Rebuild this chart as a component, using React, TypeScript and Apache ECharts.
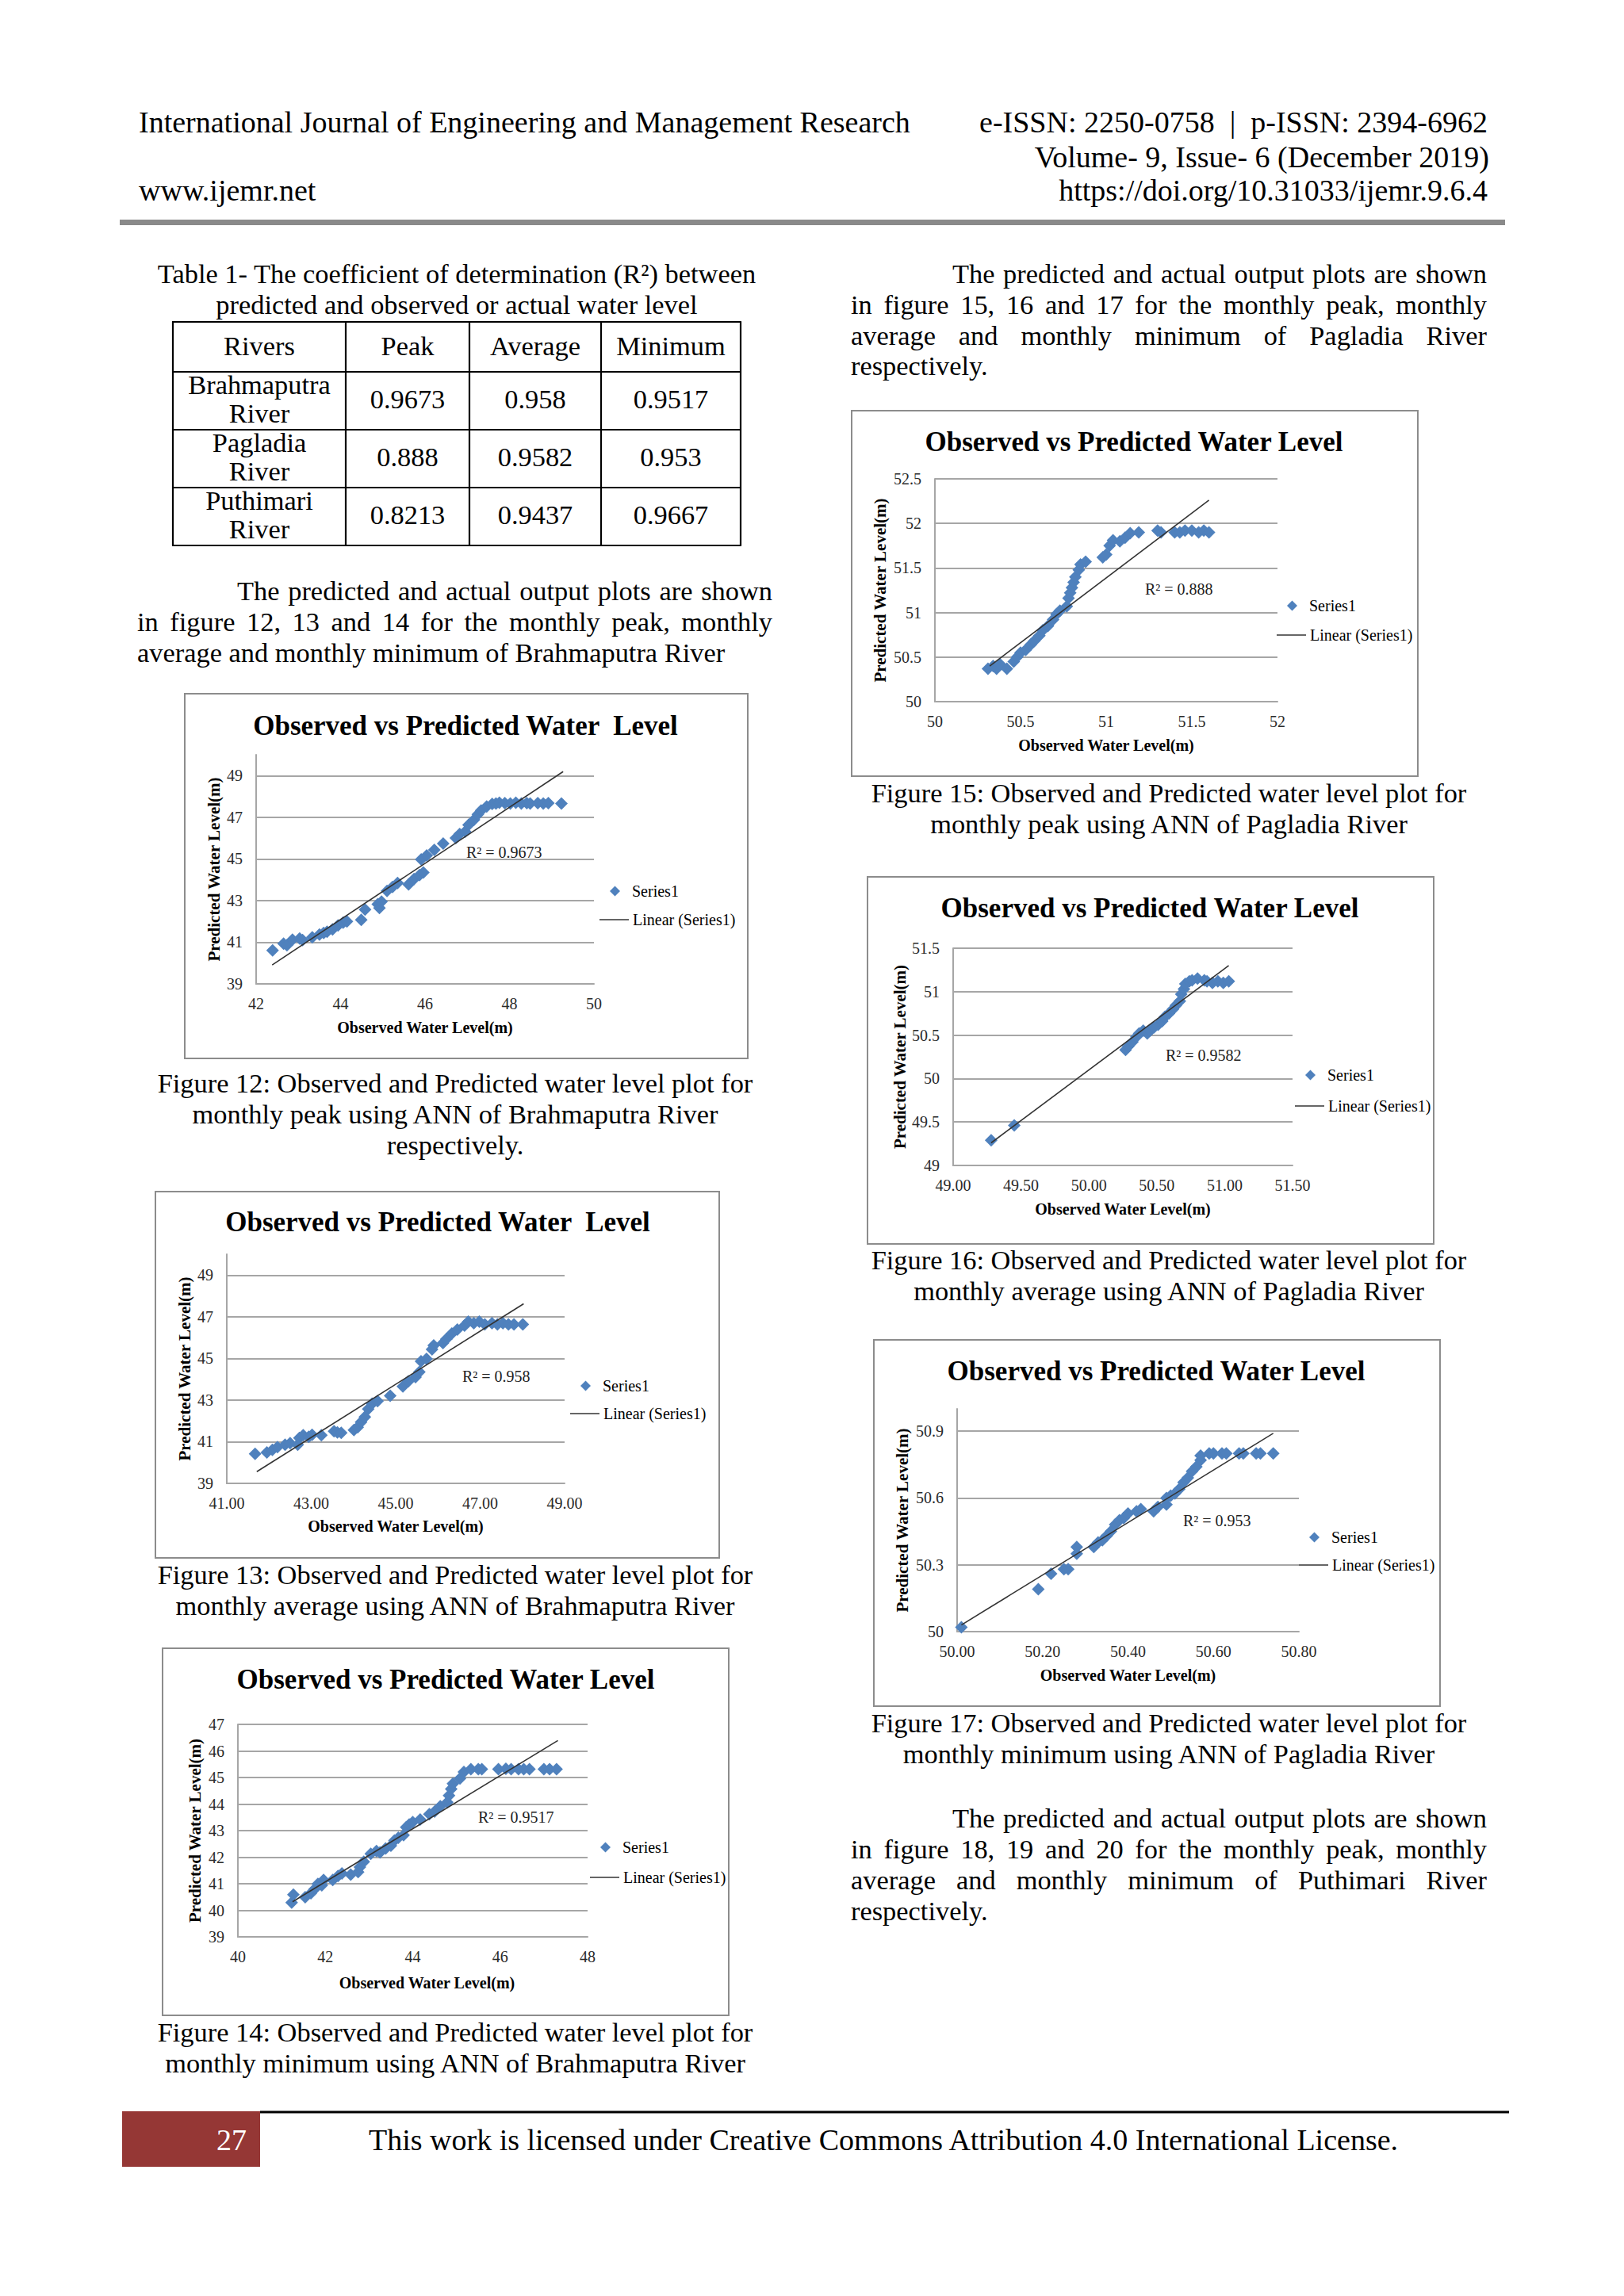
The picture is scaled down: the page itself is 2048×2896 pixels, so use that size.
import React, { useEffect, useRef } from "react";
import * as echarts from "echarts";

const SERIF = "'Liberation Serif', 'Times New Roman', serif";
const BLUE = "#4f81bd";
const GRID = "#a6a6a6";
const TREND = "#333333";

// ---------- Figure 12: Brahmaputra, monthly peak ----------
const obs12 = [42.39, 42.65, 42.73, 42.86, 43.03, 43.1, 43.33, 43.5, 43.6, 43.68, 43.81, 43.94, 44.06, 44.15, 44.49, 44.58, 44.88, 44.92, 44.97, 45.1, 45.23, 45.35, 45.61, 45.74, 45.87, 45.96, 45.91, 46.04, 46.22, 46.43, 46.73, 46.82, 46.95, 47.03, 47.16, 47.25, 47.33, 47.46, 47.59, 47.68, 47.76, 47.89, 48.02, 48.15, 48.28, 48.41, 48.49, 48.67, 48.8, 48.92, 49.23];
const pred12 = [40.61, 40.93, 40.86, 41.12, 41.18, 41.1, 41.24, 41.37, 41.45, 41.5, 41.62, 41.81, 41.94, 42.0, 42.07, 42.57, 42.83, 42.64, 42.95, 43.46, 43.65, 43.84, 43.78, 44.03, 44.22, 44.35, 44.98, 45.17, 45.43, 45.74, 46.0, 46.19, 46.31, 46.63, 46.88, 47.14, 47.33, 47.52, 47.64, 47.66, 47.7, 47.68, 47.66, 47.7, 47.66, 47.68, 47.66, 47.68, 47.66, 47.68, 47.66];
const trendObs12 = [42.38, 49.27];
const trendPred12 = [39.91, 49.19];

// ---------- Figure 13: Brahmaputra, monthly average ----------
const obs13 = [41.67, 41.95, 42.08, 42.2, 42.38, 42.5, 42.68, 42.72, 42.81, 42.94, 43.02, 43.24, 43.54, 43.62, 43.71, 44.01, 44.1, 44.18, 44.27, 44.35, 44.44, 44.57, 44.87, 45.17, 45.3, 45.47, 45.56, 45.6, 45.73, 45.86, 45.9, 46.12, 46.2, 46.33, 46.46, 46.63, 46.72, 46.85, 46.98, 47.11, 47.28, 47.41, 47.54, 47.67, 47.8, 48.01];
const pred13 = [40.42, 40.48, 40.61, 40.74, 40.86, 40.93, 40.86, 41.18, 41.31, 41.24, 41.33, 41.31, 41.5, 41.45, 41.43, 41.56, 41.69, 41.94, 42.19, 42.57, 42.83, 42.95, 43.21, 43.65, 43.9, 44.1, 44.35, 44.86, 44.98, 45.43, 45.62, 45.74, 45.93, 46.19, 46.38, 46.57, 46.76, 46.69, 46.76, 46.63, 46.69, 46.63, 46.69, 46.63, 46.63, 46.63];
const trendObs13 = [41.71, 48.03];
const trendPred13 = [39.56, 47.62];

// ---------- Figure 14: Brahmaputra, monthly minimum ----------
const obs14 = [41.23, 41.27, 41.54, 41.67, 41.75, 41.83, 41.92, 41.96, 42.17, 42.29, 42.38, 42.58, 42.75, 42.79, 42.88, 43.04, 43.17, 43.25, 43.38, 43.5, 43.58, 43.67, 43.79, 43.85, 43.92, 44.0, 44.17, 44.38, 44.5, 44.63, 44.79, 44.83, 44.88, 44.92, 45.08, 45.17, 45.33, 45.5, 45.58, 45.96, 46.13, 46.25, 46.42, 46.54, 46.67, 47.0, 47.13, 47.29];
const pred14 = [40.29, 40.59, 40.49, 40.64, 40.79, 40.99, 40.94, 41.14, 41.14, 41.29, 41.39, 41.34, 41.44, 41.63, 41.83, 42.13, 42.23, 42.18, 42.33, 42.43, 42.63, 42.73, 42.83, 43.13, 43.23, 43.32, 43.42, 43.62, 43.72, 43.92, 44.07, 44.32, 44.57, 44.77, 44.96, 45.21, 45.31, 45.31, 45.31, 45.31, 45.33, 45.31, 45.31, 45.31, 45.31, 45.31, 45.31, 45.31];
const trendObs14 = [41.25, 47.32];
const trendPred14 = [40.32, 46.39];

// ---------- Figure 15: Pagladia, monthly peak ----------
const obs15 = [50.31, 50.34, 50.36, 50.38, 50.42, 50.46, 50.48, 50.5, 50.53, 50.56, 50.58, 50.61, 50.63, 50.66, 50.69, 50.71, 50.73, 50.77, 50.78, 50.79, 50.8, 50.81, 50.82, 50.84, 50.85, 50.88, 50.98, 51.0, 51.02, 51.04, 51.08, 51.11, 51.14, 51.19, 51.3, 51.32, 51.4, 51.43, 51.46, 51.5, 51.54, 51.57, 51.6];
const pred15 = [50.37, 50.4, 50.37, 50.42, 50.37, 50.45, 50.5, 50.55, 50.58, 50.64, 50.68, 50.74, 50.8, 50.85, 50.92, 50.98, 51.02, 51.07, 51.16, 51.22, 51.28, 51.34, 51.4, 51.48, 51.54, 51.57, 51.62, 51.65, 51.75, 51.81, 51.8, 51.84, 51.89, 51.9, 51.92, 51.9, 51.9, 51.9, 51.92, 51.92, 51.9, 51.92, 51.9];
const trendObs15 = [50.32, 51.6];
const trendPred15 = [50.4, 52.26];

// ---------- Figure 16: Pagladia, monthly average ----------
const obs16 = [49.28, 49.45, 50.27, 50.29, 50.32, 50.35, 50.37, 50.4, 50.43, 50.45, 50.48, 50.51, 50.54, 50.56, 50.59, 50.62, 50.64, 50.67, 50.68, 50.7, 50.71, 50.74, 50.76, 50.8, 50.85, 50.87, 50.91, 50.95, 50.99, 51.03];
const pred16 = [49.29, 49.46, 50.33, 50.37, 50.42, 50.48, 50.52, 50.55, 50.52, 50.55, 50.59, 50.62, 50.66, 50.71, 50.75, 50.8, 50.84, 50.89, 50.97, 51.03, 51.09, 51.12, 51.13, 51.15, 51.13, 51.12, 51.1, 51.12, 51.1, 51.12];
const trendObs16 = [49.28, 51.03];
const trendPred16 = [49.26, 51.3];

// ---------- Figure 17: Pagladia, monthly minimum ----------
const obs17 = [50.01, 50.19, 50.22, 50.25, 50.26, 50.28, 50.28, 50.32, 50.33, 50.34, 50.35, 50.36, 50.37, 50.38, 50.39, 50.4, 50.42, 50.43, 50.46, 50.47, 50.49, 50.49, 50.5, 50.51, 50.52, 50.53, 50.54, 50.55, 50.56, 50.57, 50.57, 50.59, 50.6, 50.62, 50.63, 50.66, 50.67, 50.7, 50.71, 50.74];
const pred17 = [50.02, 50.19, 50.26, 50.28, 50.28, 50.35, 50.38, 50.38, 50.4, 50.41, 50.43, 50.45, 50.48, 50.5, 50.51, 50.53, 50.54, 50.55, 50.54, 50.56, 50.57, 50.6, 50.61, 50.62, 50.64, 50.67, 50.69, 50.72, 50.74, 50.77, 50.79, 50.8, 50.8, 50.8, 50.8, 50.8, 50.8, 50.8, 50.8, 50.8];
const trendObs17 = [50.01, 50.74];
const trendPred17 = [50.03, 50.89];

// ---------- Table 1 ----------
const tableHeader = ["Rivers", "Peak", "Average", "Minimum"];
const tableRivers = [["Brahmaputra", "River"], ["Pagladia", "River"], ["Puthimari", "River"]];
const r2Peak = ["0.9673", "0.888", "0.8213"];
const r2Average = ["0.958", "0.9582", "0.9437"];
const r2Minimum = ["0.9517", "0.953", "0.9667"];

// ---------- layout of the six charts (pixels in the page) ----------
const charts = [
  { obs: obs12, pred: pred12, tObs: trendObs12, tPred: trendPred12, r2: "R² = 0.9673",
    box: [233, 875, 943, 1335], grid: [323, 952, 749, 1241], xr: [42, 50, 2], yr: [39, 50, 2], xDec: -1,
    title: "Observed vs Predicted Water  Level", titleXY: [587, 927], r2XY: [588, 1082],
    legend: [756, 1124, 36], yNameGap: 43, xNameGap: 45, xNamePad: 0 },
  { obs: obs13, pred: pred13, tObs: trendObs13, tPred: trendPred13, r2: "R² = 0.958",
    box: [196, 1503, 907, 1965], grid: [286, 1582, 712, 1871], xr: [41, 49, 2], yr: [39, 50, 2], xDec: 2,
    title: "Observed vs Predicted Water  Level", titleXY: [552, 1553], r2XY: [583, 1743],
    legend: [719, 1748, 35], yNameGap: 43, xNameGap: 44, xNamePad: 0 },
  { obs: obs14, pred: pred14, tObs: trendObs14, tPred: trendPred14, r2: "R² = 0.9517",
    box: [205, 2079, 919, 2542], grid: [300, 2175, 741, 2443], xr: [40, 48, 2], yr: [39, 47, 1], xDec: -1,
    title: "Observed vs Predicted Water Level", titleXY: [562, 2130], r2XY: [603, 2299],
    legend: [744, 2330, 38], yNameGap: 44, xNameGap: 48, xNamePad: 36 },
  { obs: obs15, pred: pred15, tObs: trendObs15, tPred: trendPred15, r2: "R² = 0.888",
    box: [1074, 518, 1788, 979], grid: [1179, 604, 1611, 885], xr: [50, 52, 0.5], yr: [50, 52.5, 0.5], xDec: -1,
    title: "Observed vs Predicted Water Level", titleXY: [1430, 569], r2XY: [1444, 750],
    legend: [1610, 764, 37], yNameGap: 59, xNameGap: 45, xNamePad: 0 },
  { obs: obs16, pred: pred16, tObs: trendObs16, tPred: trendPred16, r2: "R² = 0.9582",
    box: [1094, 1106, 1808, 1569], grid: [1202, 1196, 1630, 1470], xr: [49, 51.5, 0.5], yr: [49, 51.5, 0.5], xDec: 2,
    title: "Observed vs Predicted Water Level", titleXY: [1450, 1157], r2XY: [1470, 1338],
    legend: [1633, 1356, 39], yNameGap: 57, xNameGap: 45, xNamePad: 0 },
  { obs: obs17, pred: pred17, tObs: trendObs17, tPred: trendPred17, r2: "R² = 0.953",
    box: [1102, 1690, 1816, 2152], grid: [1207, 1777, 1638, 2058], xr: [50, 50.8, 0.2], yr: [50, 51, 0.3], xDec: 2,
    title: "Observed vs Predicted Water Level", titleXY: [1458, 1741], r2XY: [1492, 1925],
    legend: [1638, 1939, 35], yNameGap: 59, xNameGap: 45, xNamePad: 0 },
];

// ---------- page text ----------
const BODY = 34.4;
const HEAD = 38;
const leftPara = [
  { t: "The predicted and actual output plots are shown", x: 299, b: 757, j: true },
  { t: "in figure 12, 13 and 14 for the monthly peak, monthly", x: 173, b: 796, j: true },
  { t: "average and monthly minimum of Brahmaputra River", x: 173, b: 835, j: false },
];
const rightPara1 = [
  { t: "The predicted and actual output plots are shown", x: 1201, b: 357, j: true },
  { t: "in figure 15, 16 and 17 for the monthly peak, monthly", x: 1073, b: 396, j: true },
  { t: "average and monthly minimum of Pagladia River", x: 1073, b: 435, j: true },
  { t: "respectively.", x: 1073, b: 473, j: false },
];
const rightPara2 = [
  { t: "The predicted and actual output plots are shown", x: 1201, b: 2305, j: true },
  { t: "in figure 18, 19 and 20 for the monthly peak, monthly", x: 1073, b: 2344, j: true },
  { t: "average and monthly minimum of Puthimari River", x: 1073, b: 2383, j: true },
  { t: "respectively.", x: 1073, b: 2422, j: false },
];
const captions = [
  { t: "Figure 12: Observed and Predicted water level plot for", x: 574, b: 1378 },
  { t: "monthly peak using ANN of Brahmaputra River", x: 574, b: 1417 },
  { t: "respectively.", x: 574, b: 1456 },
  { t: "Figure 13: Observed and Predicted water level plot for", x: 574, b: 1998 },
  { t: "monthly average using ANN of Brahmaputra River", x: 574, b: 2037 },
  { t: "Figure 14: Observed and Predicted water level plot for", x: 574, b: 2575 },
  { t: "monthly minimum using ANN of Brahmaputra River", x: 574, b: 2614 },
  { t: "Figure 15: Observed and Predicted water level plot for", x: 1474, b: 1012 },
  { t: "monthly peak using ANN of Pagladia River", x: 1474, b: 1051 },
  { t: "Figure 16: Observed and Predicted water level plot for", x: 1474, b: 1601 },
  { t: "monthly average using ANN of Pagladia River", x: 1474, b: 1640 },
  { t: "Figure 17: Observed and Predicted water level plot for", x: 1474, b: 2185 },
  { t: "monthly minimum using ANN of Pagladia River", x: 1474, b: 2224 },
  { t: "Table 1- The coefficient of determination (R²) between", x: 576, b: 357 },
  { t: "predicted and observed or actual water level", x: 576, b: 396 },
];

let measureCtx: CanvasRenderingContext2D | null = null;
function measure(text: string, size: number, weight = "normal") {
  if (!measureCtx) measureCtx = document.createElement("canvas").getContext("2d");
  measureCtx!.font = `${weight} ${size}px ${SERIF}`;
  return measureCtx!.measureText(text).width;
}

function txt(text: string, x: number, baseline: number, size: number, o: any = {}) {
  return {
    type: "text",
    x,
    y: baseline - 0.3375 * size,
    silent: true,
    z: 10,
    style: {
      text,
      fontSize: size,
      fontFamily: SERIF,
      fontWeight: o.weight || "normal",
      fill: o.color || "#000",
      align: o.align || "left",
      textAlign: o.align || "left",
      verticalAlign: "middle",
      textVerticalAlign: "middle",
    },
  };
}

function justified(text: string, x: number, baseline: number, right: number, size: number) {
  const words = text.split(" ");
  const total = words.reduce((s, w) => s + measure(w, size), 0);
  const gap = (right - x - total) / (words.length - 1);
  return {
    type: "text",
    x,
    y: baseline - 0.3375 * size,
    silent: true,
    z: 10,
    style: {
      text: words.join("{s| }"),
      rich: { s: { width: gap, fontSize: size, fontFamily: SERIF } },
      fontSize: size,
      fontFamily: SERIF,
      fill: "#000",
      align: "left",
      verticalAlign: "middle",
      textVerticalAlign: "middle",
    },
  };
}

function line(x1: number, y1: number, x2: number, y2: number, w: number, color: string) {
  return { type: "line", silent: true, shape: { x1, y1, x2, y2 }, style: { stroke: color, lineWidth: w } };
}

function fmt(v: number, dec: number) {
  if (dec >= 0) return v.toFixed(dec);
  return String(Math.round(v * 1000) / 1000);
}

const legendText = { fontSize: 20, fontFamily: SERIF, color: "#000", lineHeight: 20 };

function buildOption() {
  const grid: any[] = [];
  const xAxis: any[] = [];
  const yAxis: any[] = [];
  const series: any[] = [];
  const legend: any[] = [];
  const g: any[] = [];

  charts.forEach((c, i) => {
    const [gx0, gy0, gx1, gy1] = c.grid;
    const [xmin, xmax, xint] = c.xr;
    const [ymin, ymax, yint] = c.yr;
    const yTopOnTick = Math.abs(Math.round((ymax - ymin) / yint) * yint - (ymax - ymin)) < 1e-9;
    grid.push({ left: gx0, top: gy0, width: gx1 - gx0, height: gy1 - gy0, containLabel: false });
    xAxis.push({
      gridIndex: i,
      type: "value",
      min: 0,
      max: +(xmax - xmin).toFixed(6),
      interval: xint,
      axisLine: { show: true, onZero: false, lineStyle: { color: GRID, width: 2 } },
      axisTick: { show: false },
      splitLine: { show: false },
      axisLabel: {
        margin: 15,
        fontSize: 20,
        fontFamily: SERIF,
        color: "#2a2a2a",
        formatter: (v: number) => fmt(v + xmin, c.xDec),
      },
      name: "Observed Water Level(m)",
      nameLocation: "middle",
      nameGap: c.xNameGap,
      nameTextStyle: {
        fontSize: 20,
        fontWeight: "bold",
        fontFamily: SERIF,
        color: "#000",
        padding: [0, 0, 0, c.xNamePad],
      },
    });
    yAxis.push({
      gridIndex: i,
      type: "value",
      min: 0,
      max: +(ymax - ymin).toFixed(6),
      interval: yint,
      axisLine: { show: true, onZero: false, lineStyle: { color: GRID, width: 2 } },
      axisTick: { show: false },
      splitLine: { show: true, showMaxLine: yTopOnTick, lineStyle: { color: GRID, width: 2 } },
      axisLabel: {
        margin: 17,
        fontSize: 20,
        fontFamily: SERIF,
        color: "#2a2a2a",
        showMaxLabel: yTopOnTick,
        formatter: (v: number) => fmt(v + ymin, -1),
      },
      name: "Predicted Water Level(m)",
      nameLocation: "middle",
      nameGap: c.yNameGap,
      nameRotate: 90,
      nameTextStyle: { fontSize: 21, fontWeight: "bold", fontFamily: SERIF, color: "#000" },
    });
    series.push({
      type: "scatter",
      name: "Series1",
      xAxisIndex: i,
      yAxisIndex: i,
      symbol: "diamond",
      symbolSize: 16,
      itemStyle: { color: BLUE, opacity: 1 },
      data: c.obs.map((x, k) => [x - xmin, c.pred[k] - ymin]),
      z: 3,
    });
    series.push({
      type: "line",
      name: "Linear (Series1)",
      xAxisIndex: i,
      yAxisIndex: i,
      symbol: "none",
      showSymbol: false,
      color: TREND,
      lineStyle: { color: TREND, width: 1.6 },
      data: c.tObs.map((x, k) => [x - xmin, c.tPred[k] - ymin]),
      z: 4,
      silent: true,
    });
    const [L, row1, gap] = c.legend;
    legend.push({
      left: L + 13,
      top: row1 - 10,
      orient: "vertical",
      padding: 0,
      itemWidth: 13,
      itemHeight: 13,
      selectedMode: false,
      textStyle: { ...legendText, padding: [0, 0, 0, 10] },
      data: [{ name: "Series1", icon: "diamond", itemStyle: { color: BLUE } }],
    });
    legend.push({
      left: L,
      top: row1 + gap - 10,
      orient: "vertical",
      padding: 0,
      itemWidth: 37,
      itemHeight: 13,
      selectedMode: false,
      textStyle: legendText,
      data: [{ name: "Linear (Series1)", icon: "path://M0 0H100V4H0Z", itemStyle: { color: TREND } }],
    });
    const [bx0, by0, bx1, by1] = c.box;
    g.push({
      type: "rect",
      silent: true,
      shape: { x: bx0, y: by0, width: bx1 - bx0, height: by1 - by0 },
      style: { fill: "none", stroke: "#8c8c8c", lineWidth: 2 },
    });
    g.push(txt(c.title, c.titleXY[0], c.titleXY[1], 35, { weight: "bold", align: "center" }));
    g.push(txt(c.r2, c.r2XY[0], c.r2XY[1], 20, { color: "#222" }));
  });

  // header
  g.push(txt("International Journal of Engineering and Management Research", 175, 167, HEAD));
  g.push(txt("e-ISSN: 2250-0758\u00a0 |\u00a0 p-ISSN: 2394-6962", 1876, 167, HEAD, { align: "right" }));
  g.push(txt("Volume- 9, Issue- 6 (December 2019)", 1878, 211, HEAD, { align: "right" }));
  g.push(txt("www.ijemr.net", 175, 253, HEAD));
  g.push(txt("https://doi.org/10.31033/ijemr.9.6.4", 1876, 253, HEAD, { align: "right" }));
  g.push({ type: "rect", silent: true, shape: { x: 151, y: 277, width: 1747, height: 7 }, style: { fill: "#8a8a8a" } });

  // paragraphs
  leftPara.forEach((l) => g.push(l.j ? justified(l.t, l.x, l.b, 974, BODY) : txt(l.t, l.x, l.b, BODY)));
  rightPara1.forEach((l) => g.push(l.j ? justified(l.t, l.x, l.b, 1875, BODY) : txt(l.t, l.x, l.b, BODY)));
  rightPara2.forEach((l) => g.push(l.j ? justified(l.t, l.x, l.b, 1875, BODY) : txt(l.t, l.x, l.b, BODY)));
  captions.forEach((l) => g.push(txt(l.t, l.x, l.b, BODY, { align: "center" })));

  // table
  const colX = [218, 436, 592, 758, 934];
  const rowY = [406, 469, 542, 615, 688];
  rowY.forEach((y) => g.push(line(colX[0] - 1, y, colX[4] + 1, y, 2.2, "#000")));
  colX.forEach((x) => g.push(line(x, rowY[0], x, rowY[4], 2.2, "#000")));
  const colC = colX.slice(0, 4).map((x, k) => (x + colX[k + 1]) / 2);
  tableHeader.forEach((h, k) => g.push(txt(h, colC[k], 448, BODY, { align: "center" })));
  tableRivers.forEach((r, k) => {
    const top = rowY[k + 1];
    g.push(txt(r[0], colC[0], top + 28, BODY, { align: "center" }));
    g.push(txt(r[1], colC[0], top + 64, BODY, { align: "center" }));
    g.push(txt(r2Peak[k], colC[1], top + 46, BODY, { align: "center" }));
    g.push(txt(r2Average[k], colC[2], top + 46, BODY, { align: "center" }));
    g.push(txt(r2Minimum[k], colC[3], top + 46, BODY, { align: "center" }));
  });

  // footer
  g.push(line(328, 2664, 1903, 2664, 3, "#000"));
  g.push({ type: "rect", silent: true, shape: { x: 154, y: 2663, width: 174, height: 70 }, style: { fill: "#953735" } });
  g.push(txt("27", 311, 2712, HEAD, { align: "right", color: "#fff" }));
  g.push(txt("This work is licensed under Creative Commons Attribution 4.0 International License.", 465, 2712, HEAD));

  return {
    animation: false,
    backgroundColor: "#ffffff",
    grid,
    xAxis,
    yAxis,
    series,
    legend,
    graphic: { elements: g },
  };
}

export default function App() {
  const ref = useRef<HTMLDivElement>(null);
  useEffect(() => {
    if (!ref.current) return;
    const chart = echarts.init(ref.current, null, { renderer: "svg", width: 2048, height: 2896 });
    chart.setOption(buildOption() as any);
    return () => chart.dispose();
  }, []);
  return (
    <div
      ref={ref}
      style={{ position: "absolute", left: 0, top: 0, width: 2048, height: 2896, background: "#fff" }}
    />
  );
}
